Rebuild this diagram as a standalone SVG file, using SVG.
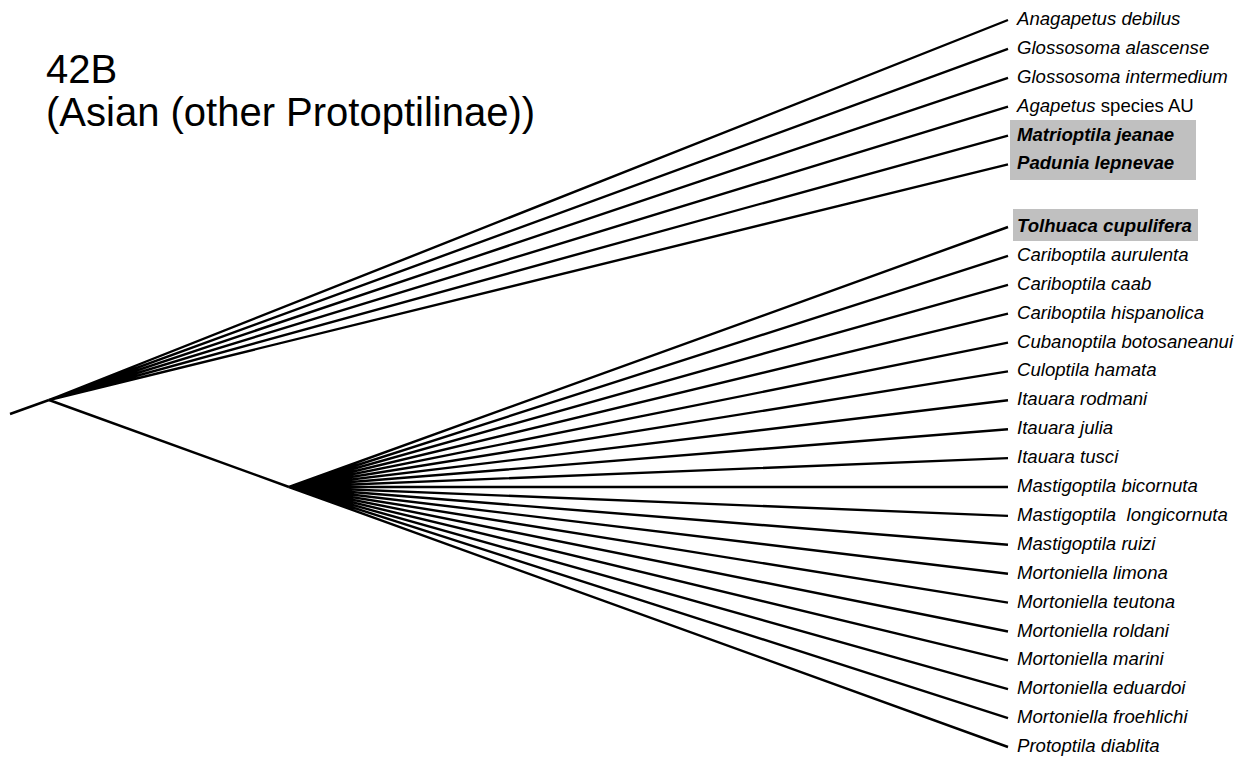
<svg xmlns="http://www.w3.org/2000/svg" width="1241" height="758" viewBox="0 0 1241 758">
<style>
.br{stroke:#000;stroke-width:2.4;fill:none;stroke-linecap:butt}
.sp{font-family:"Liberation Sans",Arial,sans-serif;font-size:18.6px;font-style:italic;fill:#000}
.hl{font-weight:bold}
.nr{font-style:normal}
.title{font-family:"Liberation Sans",Arial,sans-serif;font-size:40px;fill:#000}
.box{fill:#c0c0c0}
</style>
<rect width="1241" height="758" fill="#fff"/>
<g id="title">
<text class="title" x="46" y="83">42B</text>
<text class="title" x="46" y="126">(Asian (other Protoptilinae))</text>
</g>
<g id="connectors">
<path class="br" d="M10,414 L49,400"/>
<path class="br" d="M49,400 L1008,20 M49,400 L1008,48.9 M49,400 L1008,77.8 M49,400 L1008,106.7 M49,400 L1008,135.6 M49,400 L1008,164.4"/>
<path class="br" d="M49,400 L289,487"/>
<path class="br" d="M289,487 L1008,227 M289,487 L1008,255.9 M289,487 L1008,284.8 M289,487 L1008,313.7 M289,487 L1008,342.6 M289,487 L1008,371.4 M289,487 L1008,400.3 M289,487 L1008,429.2 M289,487 L1008,458.1 M289,487 L1008,487 M289,487 L1008,515.9 M289,487 L1008,544.8 M289,487 L1008,573.7 M289,487 L1008,602.6 M289,487 L1008,631.5 M289,487 L1008,660.3 M289,487 L1008,689.2 M289,487 L1008,718.1 M289,487 L1008,747"/>
</g>
<g id="highlight-boxes">
<rect class="box" x="1010" y="120" width="186" height="60"/>
<rect class="box" x="1013" y="209" width="185" height="32"/>
</g>
<g id="taxa-upper">
<text id="t1" class="sp" x="1017" y="25">Anagapetus debilus</text>
<text id="t2" class="sp" x="1017" y="53.9">Glossosoma alascense</text>
<text id="t3" class="sp" x="1017" y="82.8">Glossosoma intermedium</text>
<text id="t4" class="sp" x="1017" y="111.7">Agapetus<tspan class="nr"> species AU</tspan></text>
<text id="t5" class="sp hl" x="1017" y="140.6">Matrioptila jeanae</text>
<text id="t6" class="sp hl" x="1017" y="169.4">Padunia lepnevae</text>
</g>
<g id="taxa-lower">
<text id="t7" class="sp hl" x="1017" y="232">Tolhuaca cupulifera</text>
<text id="t8" class="sp" x="1017" y="260.9">Cariboptila aurulenta</text>
<text id="t9" class="sp" x="1017" y="289.8">Cariboptila caab</text>
<text id="t10" class="sp" x="1017" y="318.7">Cariboptila hispanolica</text>
<text id="t11" class="sp" x="1017" y="347.6">Cubanoptila botosaneanui</text>
<text id="t12" class="sp" x="1017" y="376.4">Culoptila hamata</text>
<text id="t13" class="sp" x="1017" y="405.3">Itauara rodmani</text>
<text id="t14" class="sp" x="1017" y="434.2">Itauara julia</text>
<text id="t15" class="sp" x="1017" y="463.1">Itauara tusci</text>
<text id="t16" class="sp" x="1017" y="492">Mastigoptila bicornuta</text>
<text id="t17" class="sp" x="1017" y="520.9" xml:space="preserve">Mastigoptila  longicornuta</text>
<text id="t18" class="sp" x="1017" y="549.8">Mastigoptila ruizi</text>
<text id="t19" class="sp" x="1017" y="578.7">Mortoniella limona</text>
<text id="t20" class="sp" x="1017" y="607.6">Mortoniella teutona</text>
<text id="t21" class="sp" x="1017" y="636.5">Mortoniella roldani</text>
<text id="t22" class="sp" x="1017" y="665.3">Mortoniella marini</text>
<text id="t23" class="sp" x="1017" y="694.2">Mortoniella eduardoi</text>
<text id="t24" class="sp" x="1017" y="723.1">Mortoniella froehlichi</text>
<text id="t25" class="sp" x="1017" y="752">Protoptila diablita</text>
</g>
</svg>
